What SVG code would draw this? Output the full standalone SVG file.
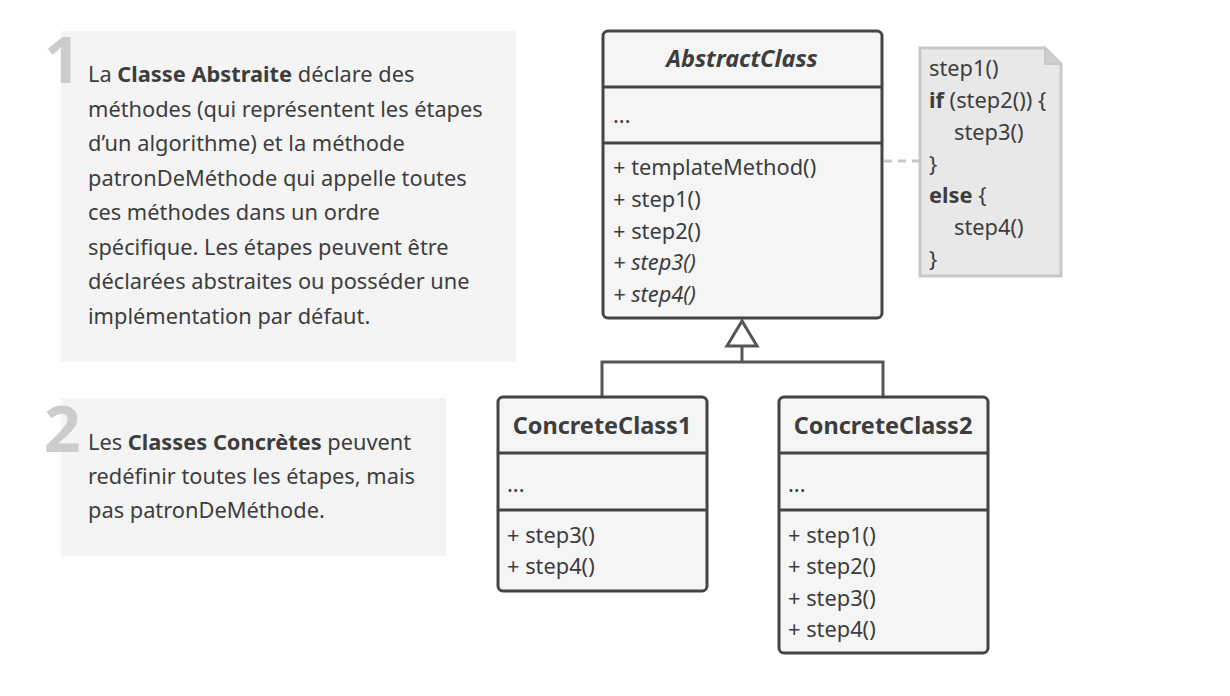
<svg xmlns="http://www.w3.org/2000/svg" width="1230" height="696" viewBox="0 0 1230 696">
<style>
text{font-family:"Noto Sans","Open Sans","Liberation Sans",sans-serif;fill:#3d3d3d}
.desc{font-size:21.8px}
.num{font-size:64px;font-weight:bold;fill:#cccccc}
.box{fill:#f5f5f5;stroke:#444;stroke-width:3}
.div{stroke:#444;stroke-width:3}
.title{font-size:23.5px;font-weight:bold;text-anchor:middle}
.mem{font-size:21.8px}
.note{fill:#e8e8e8;stroke:#c8c8c8;stroke-width:3}
.conn{fill:none;stroke:#555;stroke-width:3}
</style>
<rect width="1230" height="696" fill="#ffffff"/>
<g id="desc1">
<rect x="61" y="31" width="455" height="331" fill="#f4f4f4"/>
<text class="num" x="44" y="83">1</text>
<text class="desc">
<tspan x="88" y="82">La <tspan font-weight="bold">Classe Abstraite</tspan> déclare des</tspan>
<tspan x="88" y="116.5">méthodes (qui représentent les étapes</tspan>
<tspan x="88" y="151">d’un algorithme) et la méthode</tspan>
<tspan x="88" y="185.5">patronDeMéthode qui appelle toutes</tspan>
<tspan x="88" y="220">ces méthodes dans un ordre</tspan>
<tspan x="88" y="254.5">spécifique. Les étapes peuvent être</tspan>
<tspan x="88" y="289">déclarées abstraites ou posséder une</tspan>
<tspan x="88" y="323.5">implémentation par défaut.</tspan>
</text>
</g>
<g id="desc2">
<rect x="61" y="398" width="385" height="158" fill="#f4f4f4"/>
<text class="num" x="44" y="452">2</text>
<text class="desc">
<tspan x="88" y="450">Les <tspan font-weight="bold">Classes Concrètes</tspan> peuvent</tspan>
<tspan x="88" y="484">redéfinir toutes les étapes, mais</tspan>
<tspan x="88" y="518">pas patronDeMéthode.</tspan>
</text>
</g>
<g id="connectors">
<line x1="884" y1="161" x2="919" y2="161" stroke="#c8c8c8" stroke-width="3" stroke-dasharray="8,6"/>
<polyline class="conn" points="602,397 602,362 883,362 883,397"/>
<line class="conn" x1="742" y1="362" x2="742" y2="346"/>
<polygon points="742,321 727,346 757,346" fill="#ffffff" stroke="#555" stroke-width="3" stroke-linejoin="miter"/>
</g>
<g id="AbstractClass">
<rect class="box" x="603" y="31" width="279" height="287" rx="5"/>
<line class="div" x1="603" y1="87" x2="882" y2="87"/>
<line class="div" x1="603" y1="143" x2="882" y2="143"/>
<text class="title" x="742" y="67" font-style="italic">AbstractClass</text>
<text class="mem" x="613" y="123">...</text>
<text class="mem" x="613" y="175">+ templateMethod()</text>
<text class="mem" x="613" y="207">+ step1()</text>
<text class="mem" x="613" y="239">+ step2()</text>
<text class="mem" x="613" y="270" font-style="italic">+ step3()</text>
<text class="mem" x="613" y="302" font-style="italic">+ step4()</text>
</g>
<g id="note">
<path class="note" d="M920,48 H1045 L1061,64 V276 H920 Z"/>
<path d="M1045,48 V64 H1061" fill="#d0d0d0" stroke="#c8c8c8" stroke-width="2"/>
<text class="mem" x="929" y="76">step1()</text>
<text class="mem" x="929" y="108"><tspan font-weight="bold">if</tspan> (step2()) {</text>
<text class="mem" x="954" y="140">step3()</text>
<text class="mem" x="929" y="172">}</text>
<text class="mem" x="929" y="203"><tspan font-weight="bold">else</tspan> {</text>
<text class="mem" x="954" y="235">step4()</text>
<text class="mem" x="929" y="267">}</text>
</g>
<g id="ConcreteClass1">
<rect class="box" x="498" y="397" width="209" height="194" rx="5"/>
<line class="div" x1="498" y1="453" x2="707" y2="453"/>
<line class="div" x1="498" y1="510" x2="707" y2="510"/>
<text class="title" x="602" y="434">ConcreteClass1</text>
<text class="mem" x="507" y="492">...</text>
<text class="mem" x="507" y="543">+ step3()</text>
<text class="mem" x="507" y="574">+ step4()</text>
</g>
<g id="ConcreteClass2">
<rect class="box" x="779" y="397" width="209" height="256" rx="5"/>
<line class="div" x1="779" y1="453" x2="988" y2="453"/>
<line class="div" x1="779" y1="510" x2="988" y2="510"/>
<text class="title" x="883" y="434">ConcreteClass2</text>
<text class="mem" x="788" y="492">...</text>
<text class="mem" x="788" y="543">+ step1()</text>
<text class="mem" x="788" y="574">+ step2()</text>
<text class="mem" x="788" y="606">+ step3()</text>
<text class="mem" x="788" y="637">+ step4()</text>
</g>
</svg>
